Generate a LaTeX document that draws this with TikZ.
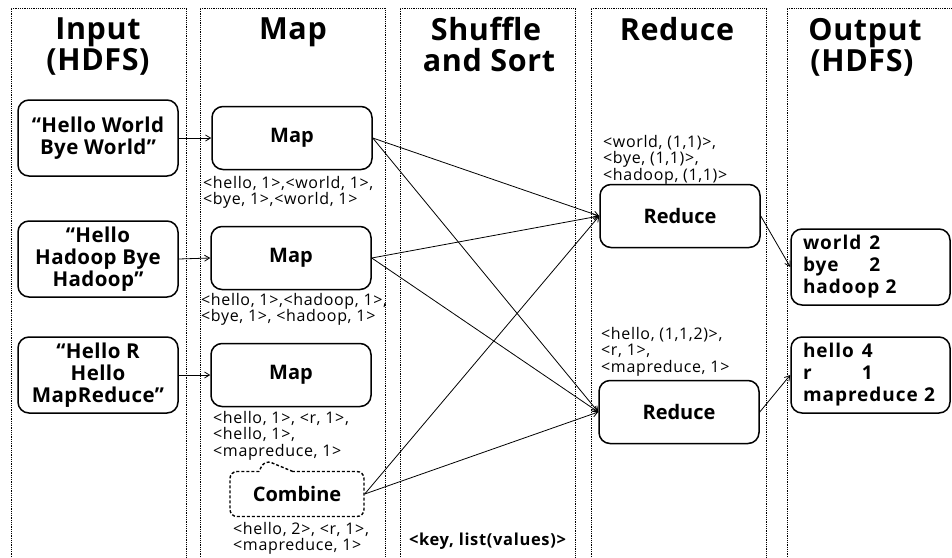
\documentclass[tikz,border=0pt]{standalone}
\usepackage{fontspec}
\setmainfont{Open Sans}
\usetikzlibrary{arrows.meta,shapes.callouts}

\begin{document}
\begin{tikzpicture}[x=1pt,y=-1pt,
  lane/.style={line width=0.9pt, dash pattern=on 0.9pt off 0.9pt},
  hdr/.style={anchor=base, inner sep=0pt, font=\fontsize{30.5}{34}\selectfont\bfseries\addfontfeatures{LetterSpace=2}},
  srcbox/.style={draw, line width=1.5pt, rounded corners=11pt, align=center, inner sep=0pt,
    minimum width=160pt, minimum height=76pt, font=\fontsize{20.5}{22}\selectfont\bfseries\addfontfeatures{LetterSpace=2}},
  stepbox/.style={draw, line width=1.5pt, rounded corners=11pt, inner sep=0pt,
    minimum width=160pt, minimum height=63pt, font=\fontsize{20}{24}\selectfont\bfseries},
  outbox/.style={draw, line width=1.5pt, rounded corners=11pt, align=left, inner xsep=12pt,
    inner ysep=0pt, text width=135pt, minimum height=76pt, font=\fontsize{19}{22}\selectfont\bfseries\addfontfeatures{LetterSpace=5}},
  kv/.style={anchor=north west, align=left, inner sep=0pt, font=\fontsize{16}{16.5}\selectfont\addfontfeatures{LetterSpace=4}},
  arr/.style={line width=0.8pt, -{Straight Barb[length=5pt,width=6pt]}}
]
\useasboundingbox (0,0) rectangle (952,557);

% swim lanes
\draw[lane] (11,557) -- (11,8) -- (186,8) -- (186,557);
\draw[lane] (200,557) -- (200,8) -- (385,8) -- (385,557);
\draw[lane] (400,557) -- (400,8) -- (575,8) -- (575,557);
\draw[lane] (591,557) -- (591,8) -- (766,8) -- (766,557);
\draw[lane] (787,557) -- (787,8) -- (952,8);

% lane titles
\node[hdr] (hIn1) at (98,39) {Input};
\node[hdr] (hIn2) at (98,70) {(HDFS)};
\node[hdr] (hMap) at (293,39) {Map};
\node[hdr] (hSh1) at (486,40) {Shuffle};
\node[hdr] (hSh2) at (489,71) {and Sort};
\node[hdr] (hRed) at (677,40) {Reduce};
\node[hdr] (hOut1) at (865,40) {Output};
\node[hdr] (hOut2) at (862,71) {(HDFS)};

% input splits
\node[srcbox] (in1) at (98,138) {“Hello World\\Bye World”};
\node[srcbox] (in2) at (98,259) {“Hello\\Hadoop Bye\\Hadoop”};
\node[srcbox] (in3) at (98,375) {“Hello R\\Hello\\MapReduce”};

% map tasks
\node[stepbox] (m1) at (292,138) {Map};
\node[stepbox] (m2) at (291,258) {Map};
\node[stepbox] (m3) at (291,375) {Map};

% combiner
\node[rectangle callout, draw, line width=1.4pt, dash pattern=on 3pt off 2pt, rounded corners=7pt,
  minimum width=134pt, minimum height=45pt, inner sep=0pt,
  callout absolute pointer={(265,460)}, callout pointer width=34pt,
  font=\fontsize{20}{24}\selectfont\bfseries] (comb) at (297,494) {Combine};

% reduce tasks
\node[stepbox] (r1) at (680,216) {Reduce};
\node[stepbox] (r2) at (679,412) {Reduce};

% results
\node[outbox] (o1) at (870.5,267) {\begin{tabular}{@{}l@{\hspace{8pt}}l@{}}world & 2\\ bye & 2\\ \multicolumn{2}{@{}l@{}}{hadoop 2}\end{tabular}};
\node[outbox] (o2) at (870.5,375) {\begin{tabular}{@{}l@{\hspace{8pt}}l@{}}hello & 4\\ r & 1\\ \multicolumn{2}{@{}l@{}}{mapreduce 2}\end{tabular}};

% intermediate key/value pairs
\node[kv] (kv1) at (203,176) {<hello, 1>,<world, 1>,\\<bye, 1>,<world, 1>};
\node[kv] (kv2) at (201,293) {<hello, 1>,<hadoop, 1>,\\<bye, 1>, <hadoop, 1>};
\node[kv] (kv3) at (213,411) {<hello, 1>, <r, 1>,\\<hello, 1>,\\<mapreduce, 1>};
\node[kv] (kv4) at (233,522) {<hello, 2>, <r, 1>,\\<mapreduce, 1>};
\node[kv] (kv5) at (603,135) {<world, (1,1)>,\\<bye, (1,1)>,\\<hadoop, (1,1)>};
\node[kv] (kv6) at (601,327) {<hello, (1,1,2)>,\\<r, 1>,\\<mapreduce, 1>};
\node[inner sep=0pt, font=\fontsize{16.5}{18}\selectfont\bfseries\addfontfeatures{LetterSpace=4}] (kv7) at (487.5,541) {<key, list(values)>};

% data flow
\draw[arr] (in1.east) -- (m1.west);
\draw[arr] (in2.east) -- (m2.west);
\draw[arr] (in3.east) -- (m3.west);
\draw[arr] (m1.east) -- (r1.west);
\draw[arr] (m1.east) -- (r2.west);
\draw[arr] (m2.east) -- (r1.west);
\draw[arr] (m2.east) -- (r2.west);
\draw[arr] (comb.east) -- (r1.west);
\draw[arr] (comb.east) -- (r2.west);
\draw[arr] (r1.east) -- (o1.west);
\draw[arr] (r2.east) -- (o2.west);
\end{tikzpicture}
\end{document}
